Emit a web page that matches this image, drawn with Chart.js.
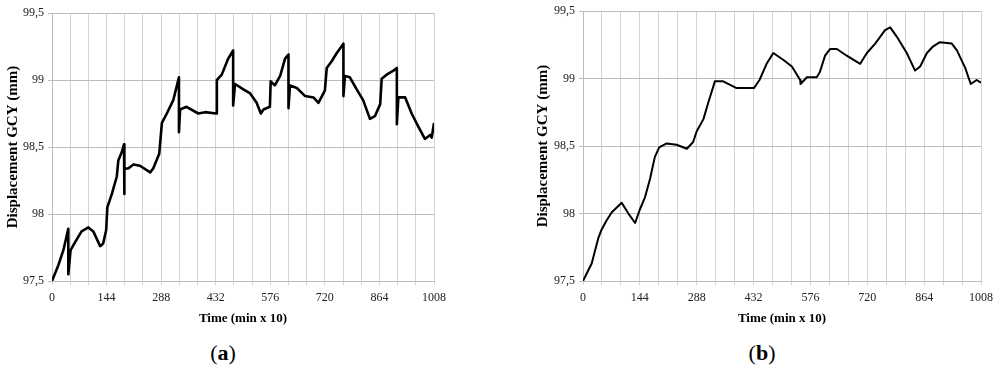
<!DOCTYPE html>
<html>
<head>
<meta charset="utf-8">
<script src="https://cdn.jsdelivr.net/npm/chart.js@4.4.1/dist/chart.umd.min.js"></script>
<style>
  html, body { margin: 0; padding: 0; background: #fff; }
  body { width: 1000px; height: 371px; position: relative; overflow: hidden; font-family: "Liberation Serif", serif; }
  .box { position: absolute; top: 0; height: 330px; }
  #boxA { left: 0; width: 460px; }
  #boxB { left: 530px; width: 470px; }
  .tag { position: absolute; top: 340px; font-size: 22px; color: #000; transform: translateX(-50%); }
  .tag b { font-weight: bold; }
</style>
</head>
<body>
<div class="box" id="boxA"><canvas id="chartA"></canvas></div>
<div class="box" id="boxB"><canvas id="chartB"></canvas></div>
<div class="tag" style="left:223px">(<b>a</b>)</div>
<div class="tag" style="left:762px">(<b>b</b>)</div>
<script>
// valeurs (temps en min x 10, deplacement en mm)
const timeA = [0, 17, 30, 43, 43, 49, 61, 78, 96, 109, 127, 135, 143, 146, 158, 171, 175, 184, 190, 190, 192,
  201, 215, 232, 259, 267, 283, 290, 303, 320, 335, 335, 338, 355, 386, 404, 433, 435, 448, 465, 478, 478,
  483, 505, 523, 540, 551, 558, 575, 577, 588, 602, 615, 624, 624, 628, 646, 668, 690, 703, 720, 725, 738,
  751, 769, 769, 773, 786, 804, 821, 839, 852, 866, 870, 883, 901, 910, 910, 914, 932, 949, 967, 984, 998,
  1002, 1008];
const dispA = [97.5, 97.62, 97.73, 97.89, 97.55, 97.73, 97.79, 97.87, 97.9, 97.87, 97.76, 97.78, 97.88, 98.05,
  98.15, 98.28, 98.4, 98.46, 98.52, 98.15, 98.34,
  98.34, 98.37, 98.36, 98.31, 98.34, 98.45, 98.68, 98.75, 98.85, 99.02, 98.61, 98.78, 98.8, 98.75, 98.76,
  98.75, 99.0, 99.04, 99.16, 99.22, 98.81,
  98.97, 98.93, 98.9, 98.83, 98.75, 98.78, 98.8, 98.99, 98.96, 99.03, 99.16, 99.19, 98.79, 98.96, 98.94,
  98.88, 98.87, 98.83, 98.92, 99.09, 99.14,
  99.2, 99.27, 98.88, 99.03, 99.02, 98.93, 98.85, 98.71, 98.73, 98.82, 99.01, 99.04, 99.07, 99.09, 98.67,
  98.87, 98.87, 98.75, 98.65, 98.56, 98.59,
  98.57, 98.68];

const timeB = [0, 22, 39, 47, 60, 73, 98, 115, 132, 144, 157, 170, 182, 193, 212, 237, 263, 279, 288, 305,
  317, 334, 355, 389, 415, 433, 447, 465, 482, 507, 529, 550, 551, 567, 592, 600, 613, 626, 643, 668, 702,
  719, 740, 765, 778, 795, 820, 841, 854, 871, 887, 904, 934, 947, 968, 982, 997, 1008];
const dispB = [97.5, 97.63, 97.82, 97.88, 97.95, 98.01, 98.08, 98.0, 97.93, 98.03, 98.12, 98.26, 98.42, 98.49,
  98.52, 98.51, 98.48, 98.53, 98.61, 98.7,
  98.82, 98.98, 98.98, 98.93, 98.93, 98.93, 98.99, 99.11, 99.19, 99.14, 99.09, 98.99, 98.96, 99.01, 99.01,
  99.05, 99.17, 99.22, 99.22, 99.17, 99.11,
  99.19, 99.26, 99.36, 99.38, 99.31, 99.19, 99.06, 99.09, 99.19, 99.24, 99.27, 99.26, 99.21, 99.08, 98.96,
  98.99, 98.97];

const yTicks = [97.5, 98, 98.5, 99, 99.5];
const yTickLabels = ["97,5", "98", "98,5", "99", "99,5"];
const xTickLabels = [0, 144, 288, 432, 576, 720, 864, 1008];

function makeChart(id, times, values, lineWidth, yAxisWidth, pad) {
  const points = times.map((t, i) => ({ x: t, y: values[i] }));
  return new Chart(document.getElementById(id).getContext("2d"), {
    type: "line",
    data: {
      datasets: [{
        data: points,
        borderColor: "#000",
        borderWidth: lineWidth,
        pointRadius: 0,
        tension: 0,
        borderJoinStyle: "round",
        fill: false,
      }],
    },
    options: {
      responsive: true,
      maintainAspectRatio: false,
      animation: false,
      layout: { padding: pad },
      plugins: { legend: { display: false }, tooltip: { enabled: false } },
      scales: {
        x: {
          type: "linear",
          min: 0,
          max: 1008,
          ticks: {
            stepSize: 48,
            autoSkip: false,
            maxRotation: 0,
            padding: 6,
            color: "#222",
            font: { family: "Liberation Serif", size: 12 },
            callback: (v) => (xTickLabels.includes(v) ? String(v) : ""),
          },
          grid: { color: "#d4d4d4", lineWidth: 1, tickLength: 4 },
          border: { color: "#bdbdbd" },
          title: {
            display: true,
            text: "Time (min x 10)",
            color: "#000",
            padding: { top: 0, bottom: 4 },
            font: { family: "Liberation Serif", size: 13, weight: "bold" },
          },
          afterFit: (s) => { s.height = 49; },
        },
        y: {
          min: 97.5,
          max: 99.5,
          afterBuildTicks: (s) => { s.ticks = yTicks.map((v) => ({ value: v })); },
          ticks: {
            padding: 4,
            color: "#222",
            font: { family: "Liberation Serif", size: 12 },
            callback: (v) => yTickLabels[yTicks.indexOf(v)] ?? "",
          },
          grid: { color: "#bdbdbd", lineWidth: 1, tickLength: 4 },
          border: { color: "#bdbdbd" },
          title: {
            display: true,
            text: "Displacement GCY (mm)",
            color: "#000",
            padding: { top: 4, bottom: 0 },
            font: { family: "Liberation Serif", size: 15, weight: "bold" },
          },
          afterFit: (s) => { s.width = yAxisWidth; },
        },
      },
    },
  });
}

makeChart("chartA", timeA, dispA, 2.6, 52, { top: 13, right: 26, bottom: 0, left: 0 });
makeChart("chartB", timeB, dispB, 2, 53, { top: 11, right: 19, bottom: 0, left: 0 });
</script>
</body>
</html>
